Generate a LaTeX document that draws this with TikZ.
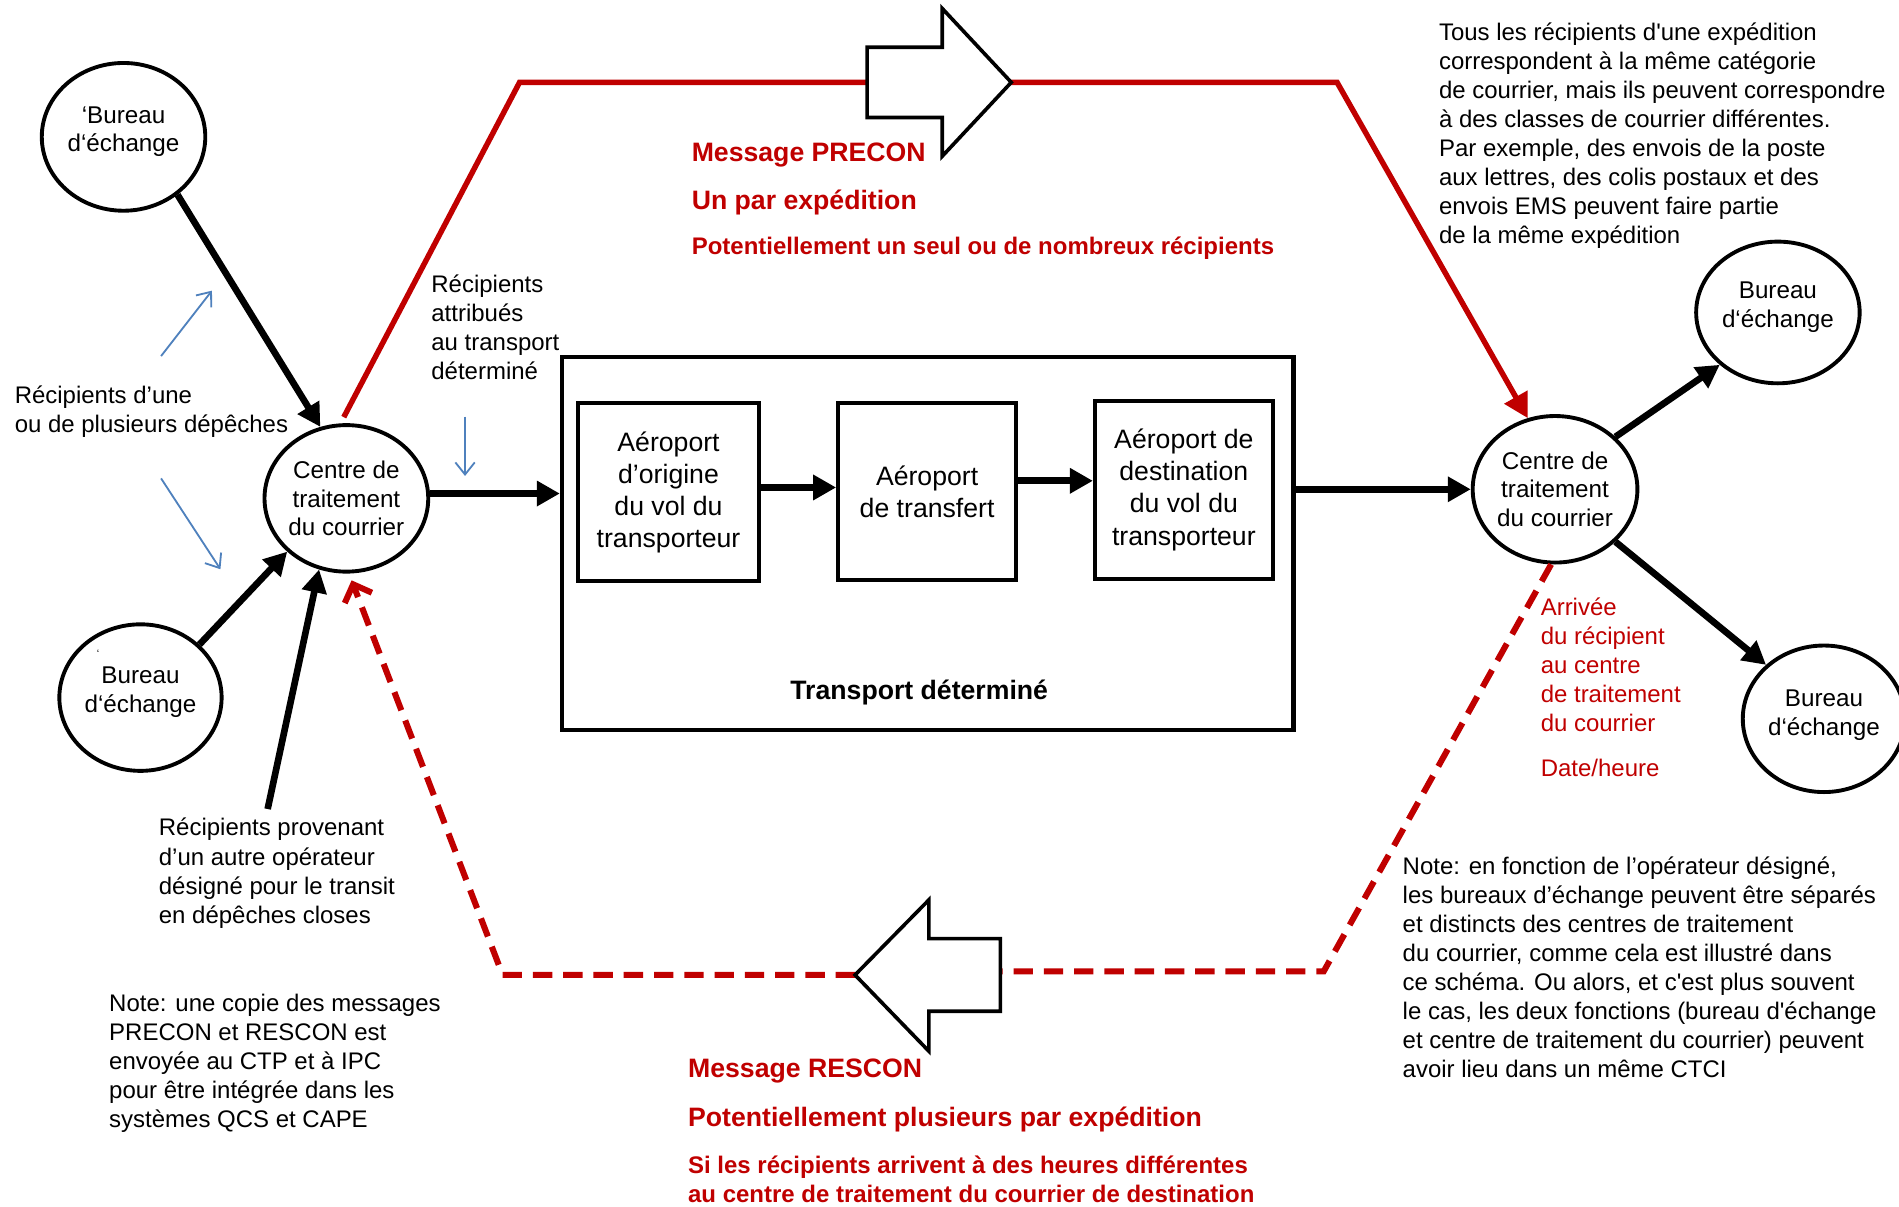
\documentclass[tikz,border=0pt]{standalone}
\usepackage{fontspec}
\setmainfont{Liberation Sans}
\usetikzlibrary{arrows.meta,shapes.geometric,calc}
\definecolor{ured}{HTML}{C00000}
\definecolor{ublue}{HTML}{4F81BD}
\begin{document}
\begin{tikzpicture}[x=1pt,y=-1pt,
  every node/.style={inner sep=0pt},
  txt/.style={font=\fontsize{19.8}{24}\selectfont, align=left, anchor=west},
  rtxt/.style={font=\fontsize{19.8}{24}\selectfont\bfseries, text=ured, align=left, anchor=west},
  rbig/.style={font=\fontsize{22}{26}\selectfont\bfseries, text=ured, align=left, anchor=west},
  rntxt/.style={font=\fontsize{19.8}{24}\selectfont, text=ured, align=left, anchor=west},
  ell/.style={ellipse, draw, line width=3.2pt, align=center, font=\fontsize{20}{23.5}\selectfont},
  abox/.style={draw, line width=3.2pt, align=center, font=\fontsize{22}{26.5}\selectfont},
  blk/.style={line width=5.5pt, -{Triangle[length=19pt,width=20pt]}},
  blu/.style={draw=ublue, line width=1.5pt, -{Straight Barb[length=10pt,width=16pt]}},
  rsolid/.style={draw=ured, line width=4.5pt},
  rdash/.style={draw=ured, line width=5pt, dash pattern=on 16pt off 9pt},
  bigarrow/.style={draw=black, fill=white, line width=3pt, line join=miter},
]
\useasboundingbox (0,0) rectangle (1568,996);
\fill[white] (0,0) rectangle (1568,996);

% ellipses
\node[ell, minimum width=135pt, minimum height=122pt, text depth=13pt] (boTL) at (102,113) {‘Bureau\\d‘échange};
\node[ell, minimum width=134pt, minimum height=121pt, text depth=13pt] (boBL) at (116,576) {Bureau\\d‘échange};
\node[ell, minimum width=135pt, minimum height=121pt] (ctL) at (286,411.5) {Centre de\\traitement\\du courrier};
\node[ell, minimum width=136pt, minimum height=121pt] (ctR) at (1284,404) {Centre de\\traitement\\du courrier};
\node[ell, minimum width=135pt, minimum height=117pt, text depth=13pt] (boTR) at (1468,258) {Bureau\\d‘échange};
\node[ell, minimum width=134pt, minimum height=121pt, text depth=10pt] (boBR) at (1506,593.5) {Bureau\\d‘échange};
\node[font=\fontsize{9}{9}\selectfont] (tick) at (81,540) {‘};

% boxes
\node[draw, line width=3.5pt, minimum width=604pt, minimum height=308pt] (tbox) at (766,449) {};
\node[abox, minimum width=150pt, minimum height=147pt] (a1) at (552,406.5) {Aéroport\\d’origine\\du vol du\\transporteur};
\node[abox, minimum width=147pt, minimum height=146pt] (a2) at (765.5,406) {Aéroport\\de transfert};
\node[abox, minimum width=147pt, minimum height=147pt] (a3) at (977.5,404.5) {Aéroport de\\destination\\du vol du\\transporteur};
\node[font=\fontsize{22}{26}\selectfont\bfseries] (tdet) at (759,572) {Transport déterminé};

% black connectors
\draw[blk] (boTL.-47) -- (ctL.110);
\draw[blk] (boBL.42) -- (ctL.-138);
\coordinate (provtop) at (221,668);
\draw[blk] (provtop) -- (ctL.-111);
\draw[blk] ([yshift=4pt]ctL.east) -- ([yshift=4pt]ctL.east -| tbox.west);
\draw[blk] ([yshift=4pt]a1.east) -- ([yshift=4pt]a1.east -| a2.west);
\draw[blk] ([yshift=9pt]a2.east) -- ([yshift=9pt]a2.east -| a3.west);
\draw[blk] (tbox.east |- ctR.west) -- (ctR.west);
\draw[blk] (ctR.41) -- (boTR.-138);
\draw[blk] (ctR.-41) -- (boBR.137);

% blue arrows
\coordinate (b1s) at (133,294); \coordinate (b1e) at (175,240);
\coordinate (b2s) at (133,395); \coordinate (b2e) at (182,470);
\coordinate (b3s) at (384,344); \coordinate (b3e) at (384,393);
\draw[blu] (b1s) -- (b1e);
\draw[blu] (b2s) -- (b2e);
\draw[blu] (b3s) -- (b3e);

% PRECON path
\coordinate (pc1) at (429,68);
\coordinate (pcTail) at (716,68);
\coordinate (pcTip) at (835,68);
\coordinate (pc2) at (1104,68);
\draw[rsolid] ([yshift=5pt]ctL.92) -- (pc1) -- (pcTail);
\draw[rsolid, -{Triangle[length=20pt,width=21pt]}] (pcTip) -- (pc2) -- (ctR.111);
\draw[bigarrow] (716,39) -- (778,39) -- (778,7) -- (pcTip) -- (778,129) -- (778,97) -- (716,97) -- cycle;

% RESCON path
\coordinate (rs1) at (1093,802);
\coordinate (rsTail) at (826,802);
\coordinate (rsTip) at (706,805);
\coordinate (rs2) at (415,805);
\draw[rdash] (ctR.-93) -- (rs1) -- (rsTail);
\draw[rdash, -{Straight Barb[length=12pt,width=24pt]}, shorten >=6pt] (rsTip) -- (rs2) -- (ctL.-88);
\draw[bigarrow] (rsTip) -- (767,743) -- (767,775) -- (826,775) -- (826,835) -- (767,835) -- (767,868) -- cycle;

% texts
\node[txt] (recip) at (12,340) {Récipients d’une\\ou de plusieurs dépêches};
\node[txt] (attrib) at (356,270) {Récipients\\attribués\\au transport\\déterminé};
\node[txt] (prov) at (131,721) {Récipients provenant\\d’un autre opérateur\\désigné pour le transit\\en dépêches closes};
\node[txt] (note1) at (90,878) {Note: une copie des messages\\PRECON et RESCON est\\envoyée au CTP et à IPC\\pour être intégrée dans les\\systèmes QCS et CAPE};
\node[txt] (tous) at (1188,112) {Tous les récipients d\textquotesingle une expédition\\correspondent à la même catégorie\\de courrier, mais ils peuvent correspondre\\à des classes de courrier différentes.\\Par exemple, des envois de la poste\\aux lettres, des colis postaux et des\\envois EMS peuvent faire partie\\de la même expédition};
\node[txt] (note2) at (1158,798.5) {Note: en fonction de l’opérateur désigné,\\les bureaux d’échange peuvent être séparés\\et distincts des centres de traitement\\du courrier, comme cela est illustré dans\\ce schéma. Ou alors, et c\textquotesingle est plus souvent\\le cas, les deux fonctions (bureau d\textquotesingle échange\\et centre de traitement du courrier) peuvent\\avoir lieu dans un même CTCI};
\node[rntxt] (arriv) at (1272,549) {Arrivée\\du récipient\\au centre\\de traitement\\du courrier};
\node[rntxt] (dateh) at (1272,634) {Date/heure};
\node[rbig] (pr1) at (571,128) {Message PRECON};
\node[rbig] (pr2) at (571,167) {Un par expédition};
\node[rtxt] (pr3) at (571,205) {Potentiellement un seul ou de nombreux récipients};
\node[rbig] (rsa) at (568,884) {Message RESCON};
\node[rbig] (rsb) at (568,924) {Potentiellement plusieurs par expédition};
\node[rtxt] (rsc) at (568,974) {Si les récipients arrivent à des heures différentes\\au centre de traitement du courrier de destination};
\end{tikzpicture}
\end{document}
